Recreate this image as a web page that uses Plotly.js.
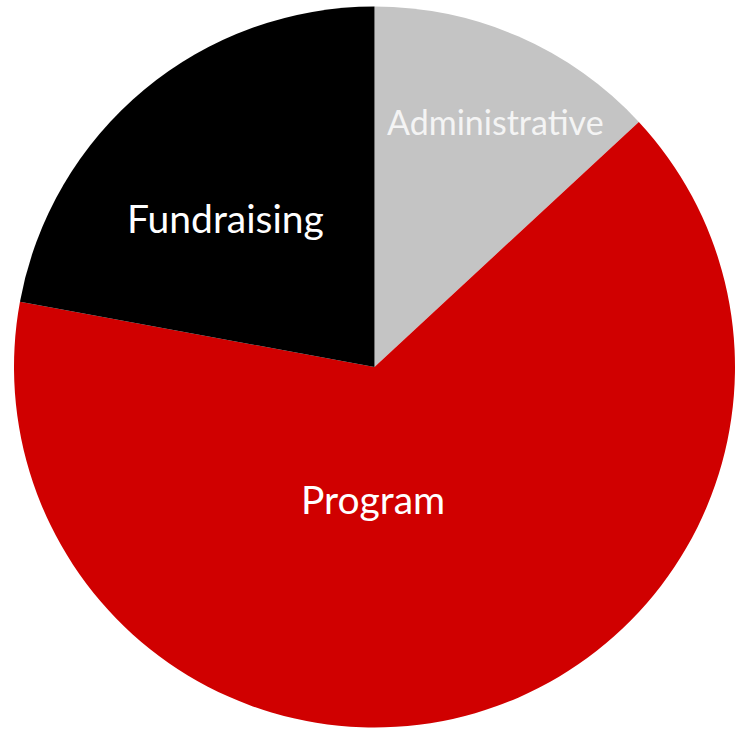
<!DOCTYPE html>
<html>
<head>
<meta charset="utf-8">
<script src="https://cdn.plot.ly/plotly-3.0.1.min.js"></script>
<style>html,body{margin:0;padding:0;background:#fff;}#chart{width:744px;height:730px;}</style>
</head>
<body>
<div id="chart"></div>
<script>
const categories = ["Administrative", "Program", "Fundraising"];
const shares = [13.1, 64.8, 22.1];
const sliceColors = ["#c4c4c4", "#d00000", "#000000"];
const labelColors = ["#f4f4f4", "#ffffff", "#ffffff"];
const labelSizes = [34, 39, 39];
// label anchor points in pixels of the 744x730 page (layout only)
const labelPx = [[495, 122], [373, 499], [225, 218]];

const W = 744, H = 730;

const trace = {
  type: "pie",
  labels: categories,
  values: shares,
  sort: false,
  direction: "clockwise",
  rotation: 0,
  marker: { colors: sliceColors, line: { width: 0 } },
  textinfo: "none",
  hoverinfo: "none",
  showlegend: false,
  domain: { x: [14 / W, 735 / W], y: [2 / H, 724 / H] }
};

const annotations = categories.map((c, i) => ({
  text: c,
  xref: "paper", yref: "paper",
  x: labelPx[i][0] / W, y: 1 - labelPx[i][1] / H,
  xanchor: "center", yanchor: "middle",
  showarrow: false,
  font: { family: "Lato, 'Open Sans', sans-serif", size: labelSizes[i], color: labelColors[i] }
}));

Plotly.newPlot("chart", [trace], {
  width: W, height: H,
  margin: { l: 0, r: 0, t: 0, b: 0 },
  paper_bgcolor: "#ffffff",
  showlegend: false,
  annotations: annotations
}, { displayModeBar: false, staticPlot: true });
</script>
</body>
</html>
